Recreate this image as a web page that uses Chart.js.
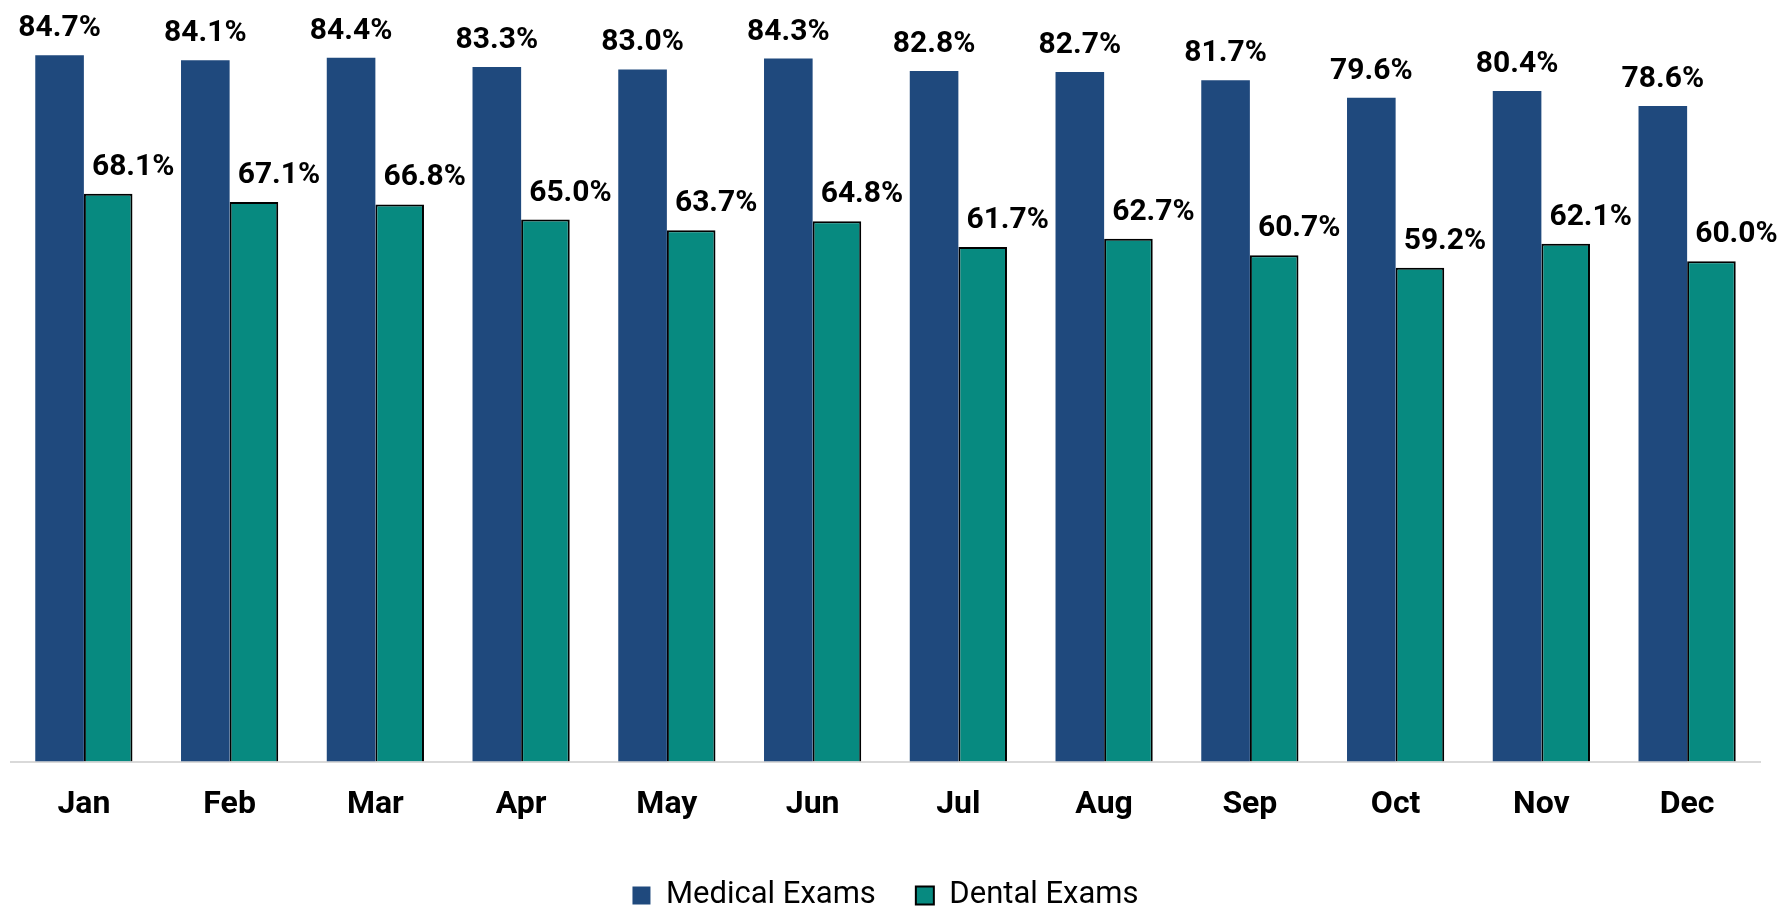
<!DOCTYPE html>
<html>
<head>
<meta charset="utf-8">
<script src="https://cdn.jsdelivr.net/npm/chart.js@4.4.1/dist/chart.umd.min.js"></script>
<style>
  html, body { margin: 0; padding: 0; background: #fff; }
  #wrap { width: 1783px; height: 907px; position: relative; }
</style>
</head>
<body>
<div id="wrap"><canvas id="chart"></canvas></div>
<script>
const months = ["Jan", "Feb", "Mar", "Apr", "May", "Jun", "Jul", "Aug", "Sep", "Oct", "Nov", "Dec"];
const medicalExams = [84.7, 84.1, 84.4, 83.3, 83.0, 84.3, 82.8, 82.7, 81.7, 79.6, 80.4, 78.6];
const dentalExams = [68.1, 67.1, 66.8, 65.0, 63.7, 64.8, 61.7, 62.7, 60.7, 59.2, 62.1, 60.0];

// value labels above each bar, dental ones nudged to the right like the original
const barLabels = {
  id: "barLabels",
  afterDatasetsDraw(chart) {
    const ctx = chart.ctx;
    ctx.save();
    ctx.font = "bold 30px Roboto";
    ctx.fillStyle = "#000";
    ctx.textAlign = "center";
    ctx.textBaseline = "alphabetic";
    chart.data.datasets.forEach((ds, i) => {
      const meta = chart.getDatasetMeta(i);
      const shift = i === 1 ? 25 : 0;
      meta.data.forEach((bar, j) => {
        ctx.fillText(ds.data[j].toFixed(1) + "%", bar.x + shift, bar.y - 19);
      });
    });
    ctx.restore();
  },
};

new Chart(document.getElementById("chart"), {
  type: "bar",
  data: {
    labels: months,
    datasets: [
      {
        label: "Medical Exams",
        data: medicalExams,
        backgroundColor: "#1F497D",
        borderWidth: 0,
      },
      {
        label: "Dental Exams",
        data: dentalExams,
        backgroundColor: "#078A80",
        borderColor: "#000",
        borderWidth: 2,
      },
    ],
  },
  options: {
    responsive: true,
    maintainAspectRatio: false,
    animation: false,
    categoryPercentage: 0.667,
    barPercentage: 1,
    layout: { padding: { top: 11, left: 11, right: 23, bottom: -14 } },
    plugins: {
      tooltip: { enabled: false },
      legend: {
        position: "bottom",
        labels: {
          font: { family: "Roboto", size: 31 },
          color: "#000",
          boxWidth: 18,
          boxHeight: 18,
          padding: 40,
        },
      },
    },
    scales: {
      x: {
        grid: { display: false },
        border: { display: true, color: "#D9D9D9", width: 2 },
        ticks: {
          font: { family: "Roboto", size: 32, weight: "bold" },
          color: "#000",
          padding: 16,
        },
      },
      y: {
        display: false,
        min: 0,
        max: 90,
      },
    },
  },
  plugins: [barLabels],
});
</script>
</body>
</html>
